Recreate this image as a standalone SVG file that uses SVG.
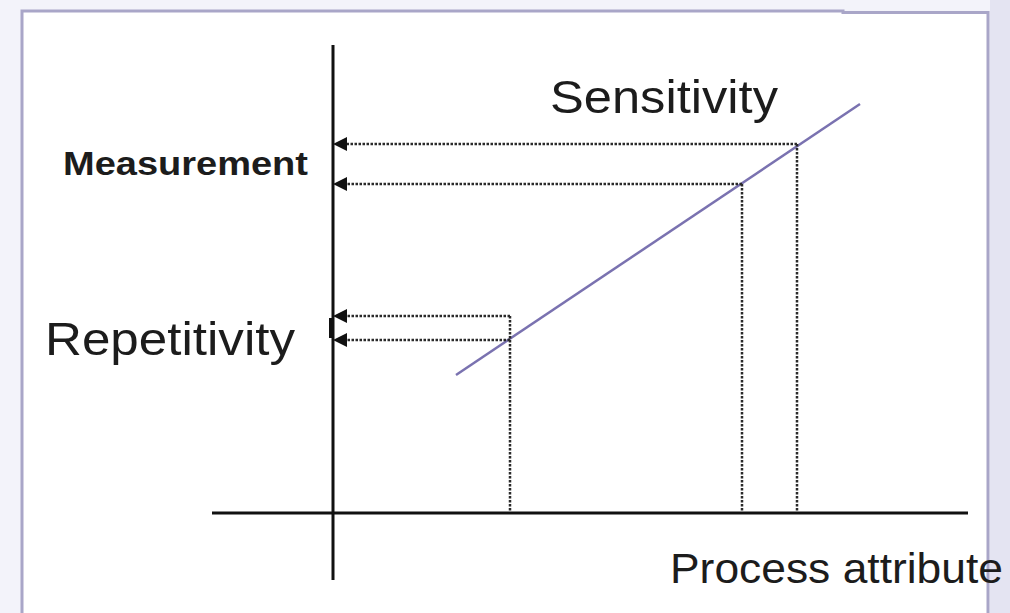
<svg xmlns="http://www.w3.org/2000/svg" width="1010" height="613" viewBox="0 0 1010 613">
<style>
.txt{font-family:"Liberation Sans",Arial,sans-serif;fill:#1c1c1c}
.axis{stroke:#111;stroke-width:3;fill:none}
.dot{stroke:#2a2a2a;stroke-width:2.5;stroke-dasharray:2.5 1.5;fill:none}
.trend{stroke:#7a72b0;stroke-width:2.5;fill:none}
</style>
<rect x="0" y="0" width="1010" height="613" fill="#f3f3fa"/>
<rect x="990" y="0" width="20" height="613" fill="#e4e4f2"/>
<rect x="22" y="11" width="966" height="602" fill="#ffffff"/>
<path d="M22,613 L22,11 L843,11 L843,12.5 L988,12.5 L988,613" fill="none" stroke="#a9a6c8" stroke-width="3"/>
<g id="axes">
<line class="axis" x1="333" y1="45" x2="333" y2="580"/>
<line class="axis" x1="212" y1="513" x2="968" y2="513"/>
<line class="axis" x1="330.5" y1="318" x2="330.5" y2="338"/>
</g>
<g id="trend-line">
<line class="trend" x1="456" y1="375" x2="860" y2="104"/>
</g>
<g id="connectors">
<line class="dot" x1="797" y1="144" x2="346" y2="144"/>
<line class="dot" x1="797" y1="144" x2="797" y2="512"/>
<line class="dot" x1="742" y1="184" x2="346" y2="184"/>
<line class="dot" x1="742" y1="184" x2="742" y2="512"/>
<line class="dot" x1="510" y1="316" x2="346" y2="316"/>
<line class="dot" x1="510" y1="316" x2="510" y2="512"/>
<line class="dot" x1="510" y1="340" x2="346" y2="340"/>
<path d="M333,144 L347,137 L347,151 Z M333,184 L347,177 L347,191 Z M333,316 L347,309 L347,323 Z M333,340 L347,333 L347,347 Z" fill="#111"/>
</g>
<g id="label-sensitivity"><text class="txt" x="550" y="113" font-size="46" textLength="228" lengthAdjust="spacingAndGlyphs">Sensitivity</text></g>
<g id="label-measurement"><text class="txt" x="63" y="175" font-size="34" font-weight="bold" textLength="245" lengthAdjust="spacingAndGlyphs">Measurement</text></g>
<g id="label-repetitivity"><text class="txt" x="45" y="355" font-size="46" textLength="250" lengthAdjust="spacingAndGlyphs">Repetitivity</text></g>
<g id="label-process"><text class="txt" x="670" y="583" font-size="42" textLength="333" lengthAdjust="spacingAndGlyphs">Process attribute</text></g>
</svg>
